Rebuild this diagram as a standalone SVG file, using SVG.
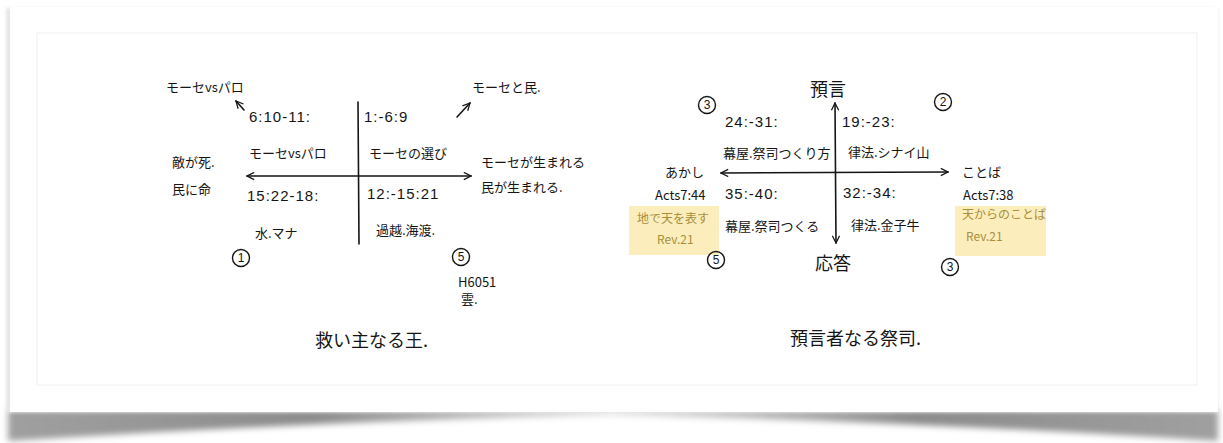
<svg xmlns="http://www.w3.org/2000/svg" width="1223" height="443" viewBox="0 0 1223 443">
<defs>
<style>
.t{font-family:"Noto Sans CJK JP","Liberation Sans",sans-serif;font-size:13px;fill:#151515}
.big{font-size:18px}
.ref{font-family:"Liberation Sans",sans-serif;font-size:15px;letter-spacing:1px;fill:#151515}
.note{font-family:"Noto Sans CJK JP","Liberation Sans",sans-serif;font-size:12px;fill:#a88f3c}
.ln{stroke:#151515;stroke-width:1.6;fill:none;stroke-linecap:round}
.circ{fill:none;stroke:#151515;stroke-width:1.4}
.num{font-family:"Liberation Sans",sans-serif;font-size:12px;fill:#151515;text-anchor:middle}
.sticky{fill:#fcedbd}
</style>
<marker id="ah" viewBox="0 0 10 10" refX="9" refY="5" markerWidth="9" markerHeight="9" orient="auto-start-reverse" markerUnits="userSpaceOnUse">
<path d="M1,1 L9,5 L1,9" fill="none" stroke="#151515" stroke-width="1.4"/>
</marker>
<linearGradient id="sh" x1="0" y1="0" x2="1" y2="0">
<stop offset="0" stop-color="#a0a0a0"/>
<stop offset="0.25" stop-color="#8c8c8c"/>
<stop offset="0.5" stop-color="#e0e0e0"/>
<stop offset="0.75" stop-color="#8c8c8c"/>
<stop offset="1" stop-color="#a0a0a0"/>
</linearGradient>
<filter id="bl" x="-5%" y="-50%" width="110%" height="200%"><feGaussianBlur stdDeviation="3"/></filter>
<filter id="bl2" x="-5%" y="-5%" width="110%" height="110%"><feGaussianBlur stdDeviation="1.5"/></filter>
</defs>
<rect width="1223" height="443" fill="#ffffff"/>
<g id="card">
<path d="M8,410 L1218,410 L1218,441 Q900,421 612,415 Q320,421 8,441 Z" fill="url(#sh)" filter="url(#bl)"/>
<rect x="6" y="8" width="1212" height="404" fill="#e6e6e6" filter="url(#bl2)"/>
<rect x="10" y="7" width="1208" height="405" fill="#ffffff"/>
<rect x="37" y="33" width="1160" height="352" fill="none" stroke="#f0f0f0" stroke-width="1"/>
</g>
<g id="connectors">
<line class="ln" x1="358" y1="102" x2="359" y2="244"/>
<line class="ln" x1="247" y1="176" x2="471" y2="176" marker-start="url(#ah)" marker-end="url(#ah)"/>
<line class="ln" x1="244" y1="110" x2="236" y2="101" marker-end="url(#ah)"/>
<line class="ln" x1="457" y1="117" x2="470" y2="103" marker-end="url(#ah)"/>
<line class="ln" x1="835" y1="103" x2="836" y2="243" marker-start="url(#ah)" marker-end="url(#ah)"/>
<line class="ln" x1="721" y1="173" x2="948" y2="172" marker-start="url(#ah)" marker-end="url(#ah)"/>
</g>
<g id="left-diagram">
<g id="n-moses-pharaoh-top"><text class="t" x="166" y="92">モーセvsパロ</text></g>
<g id="n-q2-ref"><text class="ref" x="249" y="122">6:10-11:</text><text class="t" x="249" y="158">モーセvsパロ</text></g>
<g id="n-q1-ref"><text class="ref" x="364" y="122">1:-6:9</text><text class="t" x="369" y="158">モーセの選び</text></g>
<g id="n-enemy"><text class="t" x="172" y="167">敵が死.</text><text class="t" x="172" y="194">民に命</text></g>
<g id="n-q3-ref"><text class="ref" x="247" y="201">15:22-18:</text><text class="t" x="255" y="238">水.マナ</text></g>
<g id="n-q4-ref"><text class="ref" x="367" y="199">12:-15:21</text><text class="t" x="376" y="235">過越.海渡.</text></g>
<g id="n-moses-people"><text class="t" x="472" y="92">モーセと民.</text></g>
<g id="n-born"><text class="t" x="481" y="167">モーセが生まれる</text><text class="t" x="481" y="192">民が生まれる.</text></g>
<g id="n-c1"><circle class="circ" cx="241" cy="258" r="8.5"/><text class="num" x="241" y="262">1</text></g>
<g id="n-c5"><circle class="circ" cx="461" cy="257" r="8.5"/><text class="num" x="461" y="261">5</text></g>
<g id="n-h6051"><text class="t" x="458" y="287">H6051</text><text class="t" x="461" y="304">雲.</text></g>
<g id="n-title-left"><text class="t big" x="315" y="347">救い主なる王.</text></g>
</g>
<g id="right-diagram">
<g id="n-sticky-left"><rect class="sticky" x="629" y="206" width="90" height="49"/><text class="note" x="637" y="223">地で天を表す</text><text class="note" x="657" y="244">Rev.21</text></g>
<g id="n-sticky-right"><rect class="sticky" x="955" y="206" width="91" height="50"/><text class="note" x="962" y="219">天からのことば</text><text class="note" x="966" y="241">Rev.21</text></g>
<g id="n-prophecy"><text class="t big" x="810" y="96">預言</text></g>
<g id="n-response"><text class="t big" x="815" y="270">応答</text></g>
<g id="n-c3a"><circle class="circ" cx="707" cy="105" r="8.5"/><text class="num" x="707" y="109">3</text></g>
<g id="n-c2"><circle class="circ" cx="943" cy="102" r="8.5"/><text class="num" x="943" y="106">2</text></g>
<g id="n-c5b"><circle class="circ" cx="716" cy="260" r="8.5"/><text class="num" x="716" y="264">5</text></g>
<g id="n-c3b"><circle class="circ" cx="950" cy="267" r="8.5"/><text class="num" x="950" y="271">3</text></g>
<g id="n-r2"><text class="ref" x="725" y="127">24:-31:</text><text class="t" x="723" y="158">幕屋.祭司つくり方</text></g>
<g id="n-r1"><text class="ref" x="842" y="127">19:-23:</text><text class="t" x="848" y="157">律法.シナイ山</text></g>
<g id="n-witness"><text class="t" x="665" y="177">あかし</text><text class="t" x="655" y="200">Acts7:44</text></g>
<g id="n-word"><text class="t" x="962" y="177">ことば</text><text class="t" x="963" y="200">Acts7:38</text></g>
<g id="n-r3"><text class="ref" x="725" y="199">35:-40:</text><text class="t" x="725" y="231">幕屋.祭司つくる</text></g>
<g id="n-r4"><text class="ref" x="843" y="198">32:-34:</text><text class="t" x="851" y="230">律法.金子牛</text></g>
<g id="n-title-right"><text class="t big" x="790" y="345">預言者なる祭司.</text></g>
</g>
</svg>
